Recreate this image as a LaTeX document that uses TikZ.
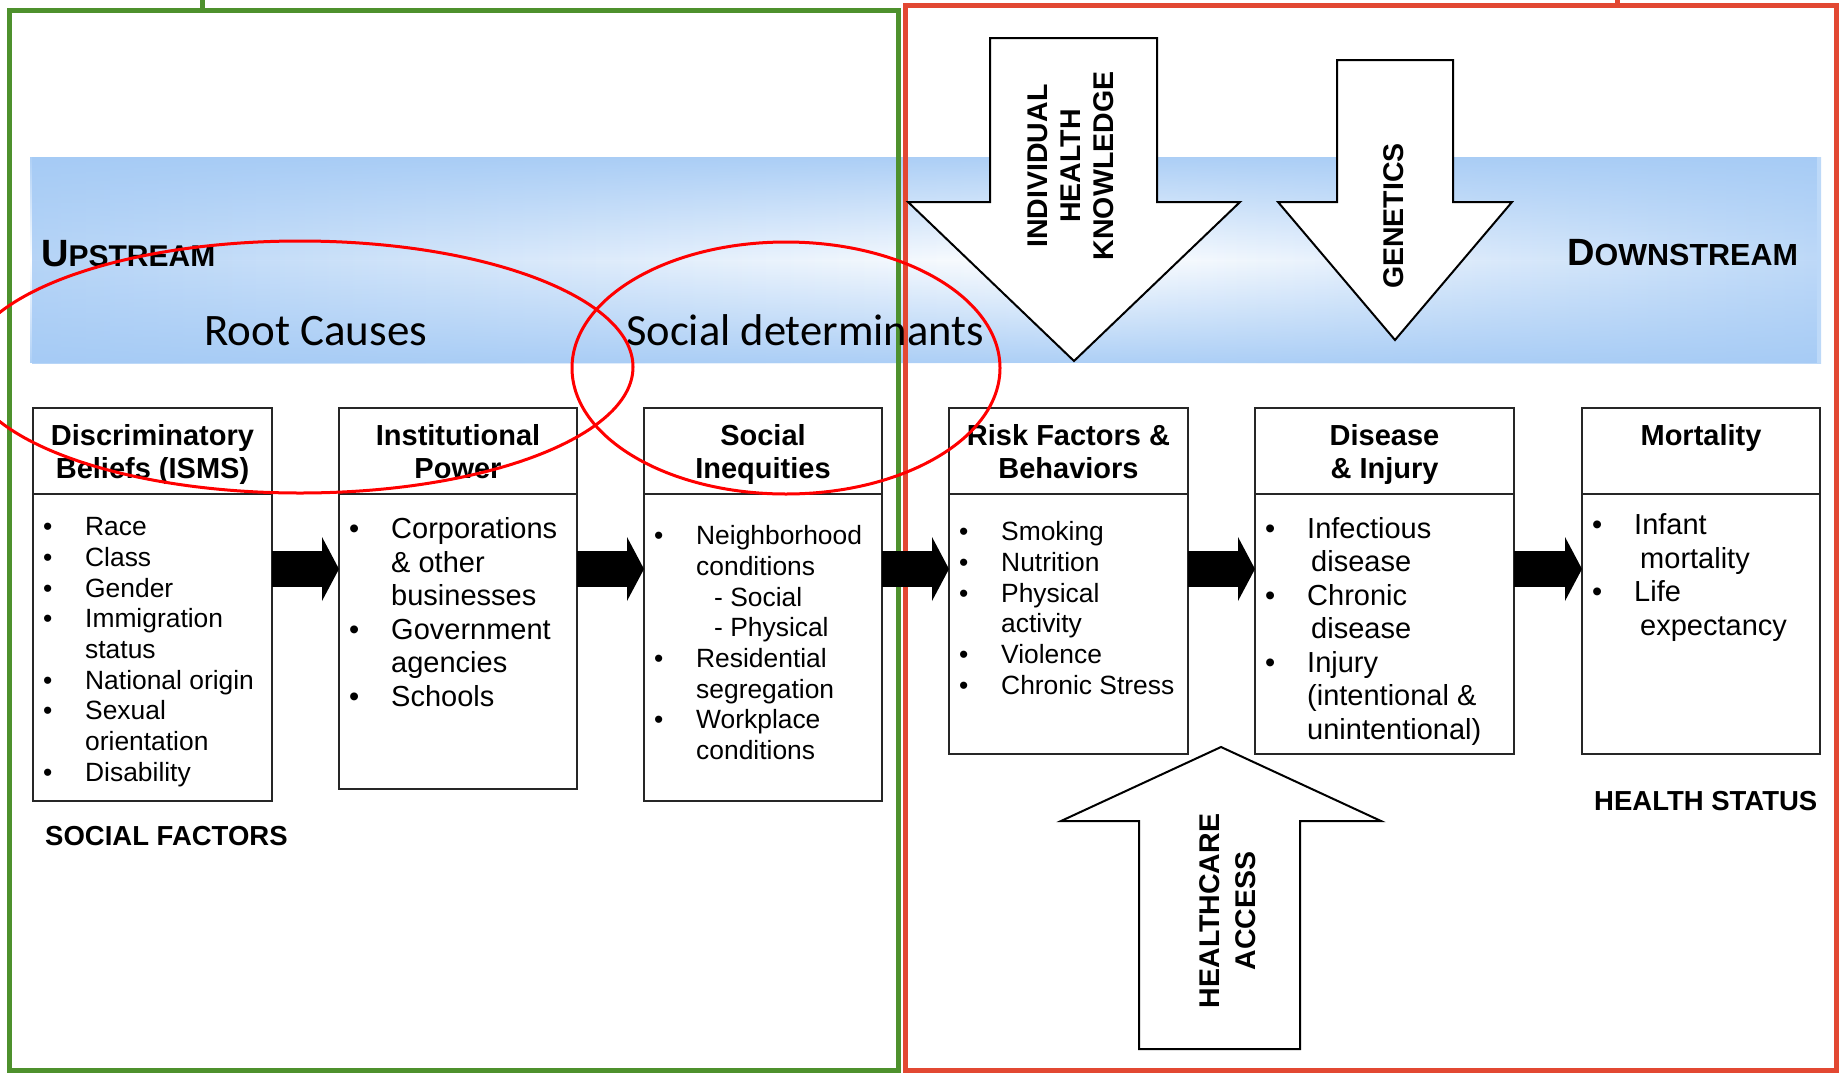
\documentclass[tikz,border=0pt]{standalone}
\usepackage{fontspec}
\setmainfont{Liberation Sans}
\newfontfamily\calfont{Carlito}
\usetikzlibrary{arrows.meta,fadings}

\definecolor{bandblue}{RGB}{164,202,245}
\definecolor{framegreen}{RGB}{78,145,45}
\definecolor{framered}{RGB}{226,72,50}

\pgfdeclarehorizontalshading{bandshade}{100bp}{color(0bp)=(bandblue); color(18bp)=(bandblue); color(54bp)=(white); color(83bp)=(bandblue); color(100bp)=(bandblue)}
\tikzfading[name=bandfade, top color=transparent!10, bottom color=transparent!10, middle color=transparent!100]

\newcommand{\hdrfont}{\fontsize{29}{33}\selectfont\bfseries}
\newcommand{\smlist}{\fontsize{26.4}{30.7}\selectfont}
\newcommand{\bglist}{\fontsize{29}{33.5}\selectfont}
\newcommand{\itm}{\strut\makebox[42pt][l]{\textbullet}}
\newcommand{\more}[1][42pt]{\strut\hspace*{#1}}

\begin{document}
\begin{tikzpicture}[x=1pt,y=-1pt,
  hdr/.style={draw=black!85,line width=1.8pt,minimum height=86pt,inner sep=0pt,outer sep=0pt,align=center,font=\hdrfont,anchor=north,fill=white},
  bodybox/.style={draw=black!85,line width=1.8pt,inner sep=0pt,outer sep=0pt,anchor=north,fill=white},
  lst/.style={anchor=north west,inner sep=0pt,align=left},
  blk/.style={line width=36pt,-{Triangle[length=17pt,width=64pt,line width=0pt]}},
  bigarrow/.style={draw=black,line width=2pt,fill=white},
  vlabel/.style={rotate=90,align=center,inner sep=0pt},
  tag/.style={anchor=base west,inner sep=0pt,font=\fontsize{27.5}{30}\selectfont\bfseries},
  ring/.style={draw=red,line width=3pt}]

\useasboundingbox (0,0) rectangle (1841,1074);

% blue band
\shade[shading=bandshade] (32,157) rectangle (1821,363);
\fill[bandblue,path fading=bandfade] (32,157) rectangle (1821,363);

% frames
\draw[framegreen,line width=5pt] (9,10) rectangle (898,1070);
\draw[framegreen,line width=5pt] (202,0) -- (202,10);
\draw[framered,line width=5pt] (905,5) rectangle (1836,1070);
\draw[framered,line width=5pt] (1617,0) -- (1617,5);

\node[anchor=base west,inner sep=0pt,font=\bfseries] (up) at (41,266) {{\fontsize{38}{40}\selectfont U}{\fontsize{30}{32}\selectfont PSTREAM}};
\node[anchor=base west,inner sep=0pt,font=\bfseries] (down) at (1567,265) {{\fontsize{38}{40}\selectfont D}{\fontsize{30.5}{32}\selectfont OWNSTREAM}};
\node[anchor=base west,inner sep=0pt,font=\fontsize{45}{50}\selectfont\calfont] (root) at (204,345) {Root Causes};
\node[anchor=base west,inner sep=0pt,font=\fontsize{44.5}{50}\selectfont\calfont] (sdoh) at (626,345) {Social determinants};

% big arrows
\draw[bigarrow] (990,38) -- (1157,38) -- (1157,202) -- (1240,202) -- (1074,361) -- (908,202) -- (990,202) -- cycle;
\node[vlabel,font=\fontsize{28.5}{33}\selectfont\bfseries] (ihk) at (1071,166) {INDIVIDUAL\\HEALTH\\KNOWLEDGE};
\draw[bigarrow] (1337,60) -- (1453,60) -- (1453,202) -- (1512,202) -- (1395,340) -- (1278,202) -- (1337,202) -- cycle;
\node[vlabel,font=\fontsize{28.5}{33}\selectfont\bfseries] (gen) at (1394,216) {GENETICS};
\draw[bigarrow] (1139,1049) -- (1300,1049) -- (1300,821) -- (1381,821) -- (1221,747) -- (1061,821) -- (1139,821) -- cycle;
\node[vlabel,font=\fontsize{28.5}{36}\selectfont\bfseries] (hca) at (1228,911) {HEALTHCARE\\ACCESS};

% boxes
\node[hdr,minimum width=239pt] (b1h) at (152.5,408) {Discriminatory\\\smash{Beliefs (ISMS)}};
\node[bodybox,minimum width=239pt,minimum height=307pt] (b1b) at (b1h.south) {};
\node[lst,font=\smlist,xshift=10pt,yshift=-20pt] (b1l) at (b1b.north west) {\itm Race\\\itm Class\\\itm Gender\\\itm Immigration\\\more status\\\itm National origin\\\itm Sexual\\\more orientation\\\itm Disability};

\node[hdr,minimum width=238pt] (b2h) at (458,408) {Institutional\\\smash{Power}};
\node[bodybox,minimum width=238pt,minimum height=295pt] (b2b) at (b2h.south) {};
\node[lst,font=\bglist,xshift=10pt,yshift=-21pt] (b2l) at (b2b.north west) {\itm Corporations\\\more \& other\\\more businesses\\\itm Government\\\more agencies\\\itm Schools};

\node[hdr,minimum width=238pt] (b3h) at (763,408) {Social\\\smash{Inequities}};
\node[bodybox,minimum width=238pt,minimum height=307pt] (b3b) at (b3h.south) {};
\node[lst,font=\smlist,xshift=10pt,yshift=-29pt] (b3l) at (b3b.north west) {\itm Neighborhood\\\more conditions\\\more[60pt]- Social\\\more[60pt]- Physical\\\itm Residential\\\more segregation\\\itm Workplace\\\more conditions};

\node[hdr,minimum width=239pt] (b4h) at (1068.5,408) {Risk Factors \&\\\smash{Behaviors}};
\node[bodybox,minimum width=239pt,minimum height=260pt] (b4b) at (b4h.south) {};
\node[lst,font=\smlist,xshift=10pt,yshift=-25pt] (b4l) at (b4b.north west) {\itm Smoking\\\itm Nutrition\\\itm Physical\\\more activity\\\itm Violence\\\itm Chronic Stress};

\node[hdr,minimum width=259pt] (b5h) at (1384.5,408) {Disease\\\smash{\& Injury}};
\node[bodybox,minimum width=259pt,minimum height=260pt] (b5b) at (b5h.south) {};
\node[lst,font=\bglist,xshift=10pt,yshift=-20.5pt] (b5l) at (b5b.north west) {\itm Infectious\\\more[46pt]disease\\\itm Chronic\\\more[46pt]disease\\\itm Injury\\\more (intentional \&\\\more unintentional)};

\node[hdr,minimum width=238pt] (b6h) at (1701,408) {Mortality\\\mbox{}};
\node[bodybox,minimum width=238pt,minimum height=260pt] (b6b) at (b6h.south) {};
\node[lst,font=\bglist,xshift=10pt,yshift=-17pt] (b6l) at (b6b.north west) {\itm Infant\\\more[48pt]mortality\\\itm Life\\\more[48pt]expectancy};

% arrows between boxes
\coordinate (ay) at (0,569);
\draw[blk] (b1b.east |- ay) -- (b2b.west |- ay);
\draw[blk] (b2b.east |- ay) -- (b3b.west |- ay);
\draw[blk] (b3b.east |- ay) -- (b4b.west |- ay);
\draw[blk] (b4b.east |- ay) -- (b5b.west |- ay);
\draw[blk] (b5b.east |- ay) -- (b6b.west |- ay);

\node[tag] (sf) at (45,845) {SOCIAL FACTORS};
\node[tag] (hs) at (1594,810) {HEALTH STATUS};

% red rings
\draw[ring] (300,367) ellipse [x radius=333pt, y radius=126pt];
\draw[ring] (786,368) ellipse [x radius=214pt, y radius=126pt];

\end{tikzpicture}
\end{document}
